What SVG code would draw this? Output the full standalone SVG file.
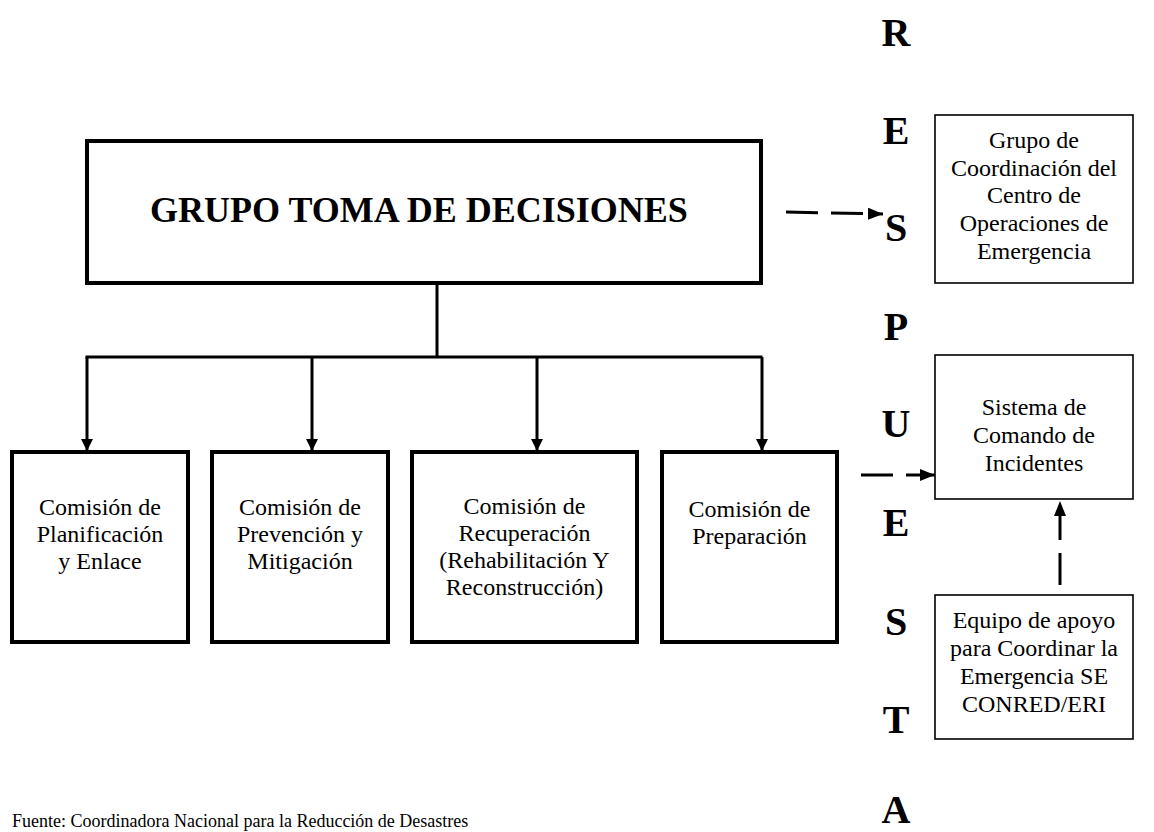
<svg xmlns="http://www.w3.org/2000/svg" width="1154" height="832" viewBox="0 0 1154 832" font-family="Liberation Serif, Times New Roman, serif">
<style>
.thick{fill:#fff;stroke:#000;stroke-width:4}
.thin{fill:#fff;stroke:#000;stroke-width:1.6}
.t{fill:#000;text-anchor:middle}
.box{font-size:24px}
.rbox{font-size:24px}
.title{font-size:36px;font-weight:bold}
.vl{font-size:40px;font-weight:bold}
.conn{stroke:#000;stroke-width:3;fill:none}
.dash{stroke-dasharray:32 13}
</style>
<defs>
<marker id="ah" viewBox="0 0 12 12" refX="12" refY="6" markerWidth="12" markerHeight="12" markerUnits="userSpaceOnUse" orient="auto">
<path d="M0,0 L12,6 L0,12 z" fill="#000"/>
</marker>
<marker id="ah2" viewBox="0 0 15 12" refX="15" refY="6" markerWidth="15" markerHeight="12" markerUnits="userSpaceOnUse" orient="auto">
<path d="M0,0 L15,6 L0,12 z" fill="#000"/>
</marker>
</defs>
<rect width="1154" height="832" fill="#fff"/>

<g id="connectors">
<line class="conn" x1="437" y1="283" x2="437" y2="357"/>
<line class="conn" x1="85.5" y1="357" x2="762.5" y2="357"/>
<line class="conn" x1="87" y1="357" x2="87" y2="451" marker-end="url(#ah)"/>
<line class="conn" x1="312" y1="357" x2="312" y2="451" marker-end="url(#ah)"/>
<line class="conn" x1="537" y1="357" x2="537" y2="451" marker-end="url(#ah)"/>
<line class="conn" x1="762" y1="357" x2="762" y2="451" marker-end="url(#ah)"/>
<line class="conn dash" x1="786" y1="212" x2="883" y2="214" marker-end="url(#ah2)"/>
<line class="conn dash" x1="861" y1="475" x2="935" y2="475" marker-end="url(#ah2)"/>
<line class="conn dash" x1="1060" y1="585" x2="1060" y2="501" marker-end="url(#ah2)"/>
</g>

<g id="grupo-toma">
<rect class="thick" x="87" y="141" width="674" height="142"/>
<text class="t title" x="419" y="222">GRUPO TOMA DE DECISIONES</text>
</g>

<g id="comision-planificacion">
<rect class="thick" x="12" y="452" width="176" height="190"/>
<text class="t box" x="100" y="515">Comisión de</text>
<text class="t box" x="100" y="542">Planificación</text>
<text class="t box" x="100" y="569">y Enlace</text>
</g>

<g id="comision-prevencion">
<rect class="thick" x="212" y="452" width="176" height="190"/>
<text class="t box" x="300" y="515">Comisión de</text>
<text class="t box" x="300" y="542">Prevención y</text>
<text class="t box" x="300" y="569">Mitigación</text>
</g>

<g id="comision-recuperacion">
<rect class="thick" x="412" y="452" width="225" height="190"/>
<text class="t box" x="524.5" y="514">Comisión de</text>
<text class="t box" x="524.5" y="541">Recuperación</text>
<text class="t box" x="524.5" y="568">(Rehabilitación Y</text>
<text class="t box" x="524.5" y="595">Reconstrucción)</text>
</g>

<g id="comision-preparacion">
<rect class="thick" x="662" y="452" width="175" height="190"/>
<text class="t box" x="749.5" y="517">Comisión de</text>
<text class="t box" x="749.5" y="544">Preparación</text>
</g>

<g id="grupo-coordinacion">
<rect class="thin" x="935" y="115" width="198" height="168"/>
<text class="t rbox" x="1034" y="148">Grupo de</text>
<text class="t rbox" x="1034" y="176">Coordinación del</text>
<text class="t rbox" x="1034" y="203">Centro de</text>
<text class="t rbox" x="1034" y="231">Operaciones de</text>
<text class="t rbox" x="1034" y="259">Emergencia</text>
</g>

<g id="sistema-comando">
<rect class="thin" x="935" y="355" width="198" height="144"/>
<text class="t rbox" x="1034" y="415">Sistema de</text>
<text class="t rbox" x="1034" y="443">Comando de</text>
<text class="t rbox" x="1034" y="471">Incidentes</text>
</g>

<g id="equipo-apoyo">
<rect class="thin" x="935" y="595" width="198" height="144"/>
<text class="t rbox" x="1034" y="628">Equipo de apoyo</text>
<text class="t rbox" x="1034" y="656">para Coordinar la</text>
<text class="t rbox" x="1034" y="684">Emergencia SE</text>
<text class="t rbox" x="1034" y="712">CONRED/ERI</text>
</g>

<g id="respuesta">
<text class="t vl" x="896" y="46">R</text>
<text class="t vl" x="896" y="144">E</text>
<text class="t vl" x="896" y="241">S</text>
<text class="t vl" x="896" y="340">P</text>
<text class="t vl" x="896" y="437">U</text>
<text class="t vl" x="896" y="536">E</text>
<text class="t vl" x="896" y="635">S</text>
<text class="t vl" x="896" y="733">T</text>
<text class="t vl" x="896" y="823">A</text>
</g>

<text x="12" y="827" font-size="18" fill="#000">Fuente: Coordinadora Nacional para la Reducción de Desastres</text>
</svg>
